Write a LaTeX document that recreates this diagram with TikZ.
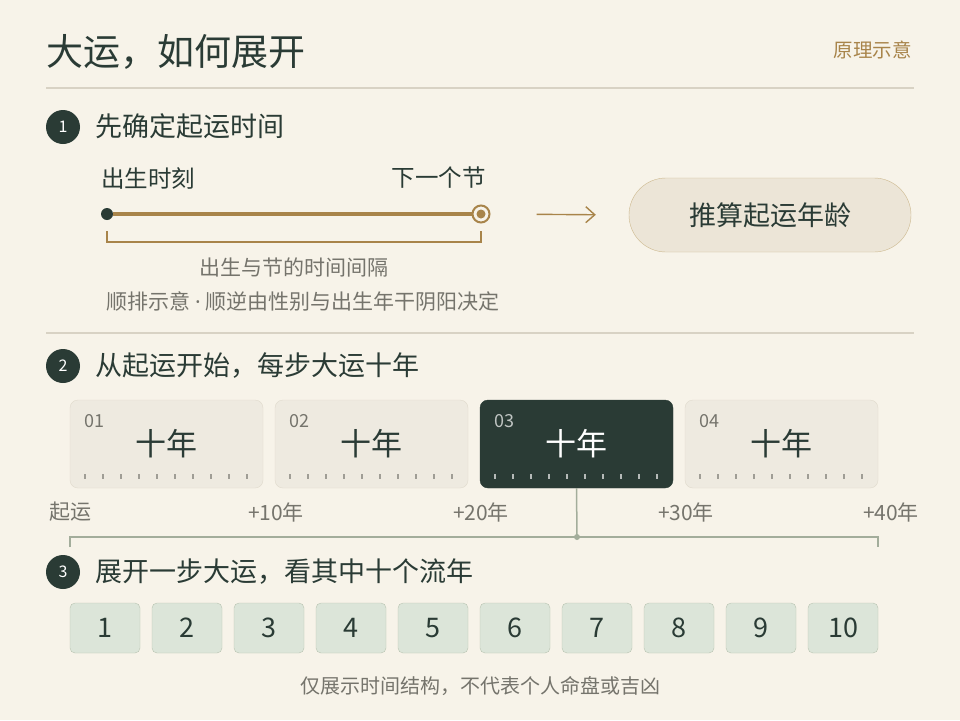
\documentclass[tikz,border=0pt]{standalone}
\usepackage{fontspec}
\setmainfont{Noto Sans CJK SC}
\newfontfamily\latinfont{Noto Sans}
\usepackage{xcolor}
\usetikzlibrary{arrows.meta}
\definecolor{paper}{HTML}{F7F3E9}
\definecolor{ink}{HTML}{2A3B35}
\definecolor{gold}{HTML}{A8844A}
\definecolor{rule}{HTML}{D8D2C4}
\definecolor{muted}{HTML}{75746C}
\definecolor{card}{HTML}{EEEAE0}
\definecolor{cardline}{HTML}{E0DACD}
\definecolor{pill}{HTML}{ECE5D7}
\definecolor{pillline}{HTML}{CDB98F}
\definecolor{sage}{HTML}{A3AD9B}
\definecolor{yearfill}{HTML}{DCE5D9}
\definecolor{yearline}{HTML}{B9C3B1}

\begin{document}
\begin{tikzpicture}[x=1pt,y=-1pt,>={Straight Barb[length=9pt,width=16pt]},
  stepnum/.style={circle,fill=ink,text=white,minimum size=34pt,inner sep=0pt,font=\fontsize{16}{16}\selectfont},
  head/.style={anchor=west,inner sep=0pt,text=ink,font=\fontsize{27}{27}\selectfont},
  note/.style={inner sep=0pt,text=muted,font=\fontsize{21}{21}\selectfont},
  decade/.style={rounded corners=8pt,draw=cardline,fill=card,text=ink,minimum width=193pt,minimum height=88pt,inner sep=0pt,font=\fontsize{31}{31}\selectfont},
  tag/.style={anchor=west,inner sep=0pt,text=muted,font=\fontsize{18}{18}\selectfont},
  year/.style={rounded corners=5pt,draw=yearline,fill=yearfill,text=ink,minimum width=70pt,minimum height=50pt,inner sep=0pt,font=\fontsize{27}{27}\selectfont}]
\fill[paper] (0,0) rectangle (960,720);
\node[anchor=west,inner sep=0pt,text=ink,font=\fontsize{37}{37}\selectfont] (title) at (46,52) {大运，如何展开};
\node[anchor=east,inner sep=0pt,text=gold,font=\fontsize{19.5}{19.5}\selectfont] (hint) at (912,50) {原理示意};
\draw[rule,line width=1.5pt] (46,88) -- (914,88);
\draw[rule,line width=1.5pt] (46,333) -- (914,333);

\node[stepnum] (s1) at (63,127) {1};
\node[head] (h1) at (95,126) {先确定起运时间};
\node[anchor=west,inner sep=0pt,text=ink,font=\fontsize{23.5}{23.5}\selectfont] (birthlbl) at (101,178) {出生时刻};
\node[anchor=east,inner sep=0pt,text=ink,font=\fontsize{23.5}{23.5}\selectfont] (jielbl) at (486,178) {下一个节};
\node[circle,fill=ink,minimum size=12pt,inner sep=0pt] (birth) at (107,214) {};
\node[circle,draw=gold,line width=2pt,fill=paper,minimum size=17pt,inner sep=0pt] (jie) at (481,214) {};
\fill[gold] (jie) circle (4.5);
\draw[gold,line width=3.2pt] (birth.east) -- (jie.west);
\draw[gold,line width=1.6pt] (107,231) -- (107,242) -- (481,242) -- (481,231);
\node[note] (gap) at (294,267) {出生与节的时间间隔};
\node[note] (dir) at (303,301) {顺排示意 {\latinfont\textperiodcentered} 顺逆由性别与出生年干阴阳决定};
\node[rounded corners=37pt,draw=pillline,fill=pill,text=ink,minimum width=282pt,minimum height=74pt,font=\fontsize{27}{27}\selectfont] (calc) at (770,215) {推算起运年龄};
\draw[->,gold,line width=1.4pt,shorten <=46pt,shorten >=33pt] (jie.east) -- (calc.west);

\node[stepnum] (s2) at (63,366) {2};
\node[head] (h2) at (95,366) {从起运开始，每步大运十年};
\node[decade] (d1) at (166.5,444) {十年};
\node[decade] (d2) at (371.5,444) {十年};
\node[decade,fill=ink,draw=ink,text=white] (d3) at (576.5,444) {十年};
\node[decade] (d4) at (781.5,444) {十年};
\node[tag] (t1) at (84,421) {01};
\node[tag] (t2) at (289,421) {02};
\node[tag,text=ink!30!white] (t3) at (494,421) {03};
\node[tag] (t4) at (699,421) {04};
\foreach \b in {0,1,3}
  \foreach \i in {0,...,9}
    \draw[card!35!muted,line width=1.3pt] (85+205*\b+18*\i,474) -- ++(0,5);
\foreach \i in {0,...,9}
  \draw[ink!35!white,line width=1.3pt] (495+18*\i,474) -- ++(0,5);
\node[note] (a0) at (70,512) {起运};
\node[note] (a1) at (276,512) {+10年};
\node[note] (a2) at (481,512) {+20年};
\node[note] (a3) at (686,512) {+30年};
\node[note] (a4) at (891,512) {+40年};
\coordinate (split) at (577,537);
\draw[sage,line width=1.5pt] (70,547) -- (70,537) -- (878,537) -- (878,547);
\draw[sage,line width=1.5pt] (d3.south) -- (split);
\fill[sage] (split) circle (3);

\node[stepnum] (s3) at (63,572) {3};
\node[head] (h3) at (95,572) {展开一步大运，看其中十个流年};
\node[year] (y1) at (105,628) {1};
\node[year] (y2) at (187,628) {2};
\node[year] (y3) at (269,628) {3};
\node[year] (y4) at (351,628) {4};
\node[year] (y5) at (433,628) {5};
\node[year] (y6) at (515,628) {6};
\node[year] (y7) at (597,628) {7};
\node[year] (y8) at (679,628) {8};
\node[year] (y9) at (761,628) {9};
\node[year] (y10) at (843,628) {10};
\node[note,font=\fontsize{20}{20}\selectfont] (foot) at (480,686) {仅展示时间结构，不代表个人命盘或吉凶};
\end{tikzpicture}
\end{document}
